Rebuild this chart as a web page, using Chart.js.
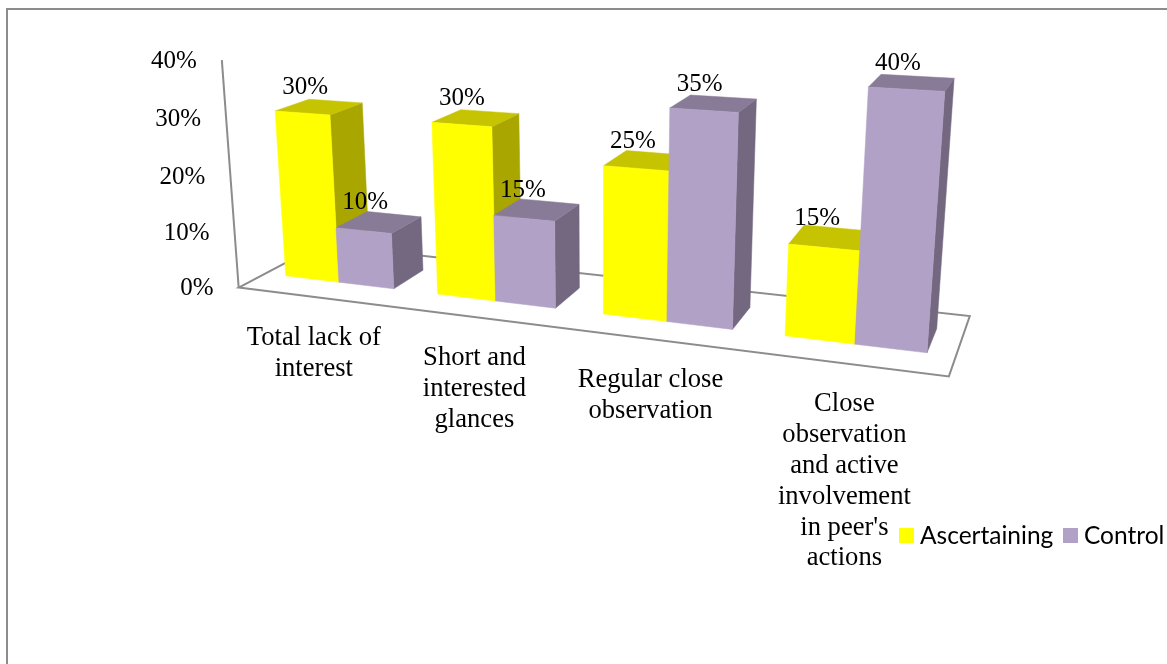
<!DOCTYPE html>
<html>
<head>
<meta charset="utf-8">
<title>Ascertaining and control</title>
<script src="https://cdn.jsdelivr.net/npm/chart.js@4/dist/chart.umd.min.js"></script>
<style>
    html, body { margin: 0; background: #fff; overflow: hidden; }
    canvas { display: block; }
</style>
</head>
<body>
<canvas id="chart" width="1167" height="664"></canvas>
<script>
const categories = [
    ['Total lack of', 'interest'],
    ['Short and', 'interested', 'glances'],
    ['Regular close', 'observation'],
    ['Close', 'observation', 'and active', 'involvement', "in peer's", 'actions']
];
const ascertaining = [30, 30, 25, 15];
const control = [10, 15, 35, 40];
const yTicks = [0, 10, 20, 30, 40];

const serif = '"Liberation Serif", "Times New Roman", serif';
const GREY = '#8c8c8c';

// one colour per face of a column
const yellowFaces = { front: '#ffff00', top: '#c6c300', side: '#a9a600' };
const purpleFaces = { front: '#b2a1c7', top: '#887b97', side: '#736880' };

// perspective box: u runs along the categories (0-1), d runs back through a
// column (0 = front face, 1 = back face), h is the value on the y scale
const FLOOR_FRONT = -0.759;
const FLOOR_BACK = 1.7;

function project(u, d, h) {
    const s = 0.039 * d;
    const t = -0.00108 * h;
    const w = 1 - 0.1667 * u + s + t;
    return {
        x: (265.5 + 531 * u + 1145 * s + 600 * t) / w,
        y: (273.4 + 23.5 * u - 190 * s + 5170 * t) / w
    };
}

function fillFace(ctx, color, points) {
    ctx.beginPath();
    points.forEach((p, i) => {
        const q = project(p[0], p[1], p[2]);
        if (i === 0) ctx.moveTo(q.x, q.y);
        else ctx.lineTo(q.x, q.y);
    });
    ctx.closePath();
    ctx.fillStyle = color;
    ctx.strokeStyle = color;
    ctx.lineWidth = 0.5;
    ctx.fill();
    ctx.stroke();
}

function drawFloor(ctx) {
    const corners = [
        project(0, FLOOR_FRONT, 0),
        project(1, FLOOR_FRONT, 0),
        project(1, FLOOR_BACK, 0),
        project(0, FLOOR_BACK, 0)
    ];
    ctx.beginPath();
    corners.forEach((q, i) => i === 0 ? ctx.moveTo(q.x, q.y) : ctx.lineTo(q.x, q.y));
    ctx.closePath();
    ctx.strokeStyle = GREY;
    ctx.lineWidth = 2;
    ctx.stroke();

    const top = project(0, FLOOR_FRONT, yTicks[yTicks.length - 1]);
    ctx.beginPath();
    ctx.moveTo(corners[0].x, corners[0].y);
    ctx.lineTo(top.x, top.y);
    ctx.stroke();
}

function drawColumn(ctx, bar, value, faces, area) {
    const u0 = (bar.x - bar.width / 2 - area.left) / area.width;
    const u1 = (bar.x + bar.width / 2 - area.left) / area.width;
    fillFace(ctx, faces.side, [[u1, 0, 0], [u1, 1, 0], [u1, 1, value], [u1, 0, value]]);
    fillFace(ctx, faces.top, [[u0, 0, value], [u1, 0, value], [u1, 1, value], [u0, 1, value]]);
    fillFace(ctx, faces.front, [[u0, 0, 0], [u1, 0, 0], [u1, 0, value], [u0, 0, value]]);
}

const box3d = {
    id: 'box3d',
    beforeDraw(chart) {
        // frame round the chart, open on the right and at the bottom
        const ctx = chart.ctx;
        ctx.save();
        ctx.strokeStyle = GREY;
        ctx.lineWidth = 2;
        ctx.beginPath();
        ctx.moveTo(7, chart.height);
        ctx.lineTo(7, 9);
        ctx.lineTo(chart.width, 9);
        ctx.stroke();
        ctx.restore();
    },
    beforeDatasetsDraw(chart) {
        const ctx = chart.ctx;
        const area = chart.chartArea;
        const xScale = chart.scales.x;
        const yScale = chart.scales.y;
        const faceSets = [yellowFaces, purpleFaces];
        ctx.save();
        drawFloor(ctx);

        // columns back to front, category by category
        categories.forEach((lines, i) => {
            chart.data.datasets.forEach((ds, k) => {
                const bar = chart.getDatasetMeta(k).data[i];
                drawColumn(ctx, bar, yScale.getValueForPixel(bar.y), faceSets[k], area);
            });
        });

        ctx.fillStyle = '#000';
        ctx.font = '25px ' + serif;
        ctx.textBaseline = 'middle';

        // value labels above each column
        ctx.textAlign = 'center';
        chart.data.datasets.forEach((ds, k) => {
            chart.getDatasetMeta(k).data.forEach((bar, i) => {
                const u = (bar.x - area.left) / area.width;
                const q = project(u, 0.5, yScale.getValueForPixel(bar.y));
                ctx.fillText(ds.data[i] + '%', q.x - 14, q.y - 19.5);
            });
        });

        // y ticks follow the slanted axis
        ctx.textAlign = 'right';
        yScale.ticks.forEach(tick => {
            const q = project(0, FLOOR_FRONT, tick.value);
            ctx.fillText(tick.label, q.x - 25, q.y + 1);
        });

        // category labels hang under the front edge of the floor
        ctx.textAlign = 'center';
        ctx.font = '26.6px ' + serif;
        categories.forEach((lines, i) => {
            const u = (xScale.getPixelForTick(i) - area.left) / area.width;
            const q = project(u, FLOOR_FRONT, 0);
            lines.forEach((line, n) => ctx.fillText(line, q.x, q.y + 41 + n * 30.8));
        });

        // legend
        ctx.textAlign = 'left';
        ctx.font = '24.5px Lato, sans-serif';
        const legendX = [899, 1063];
        chart.data.datasets.forEach((ds, k) => {
            ctx.fillStyle = ds.backgroundColor;
            ctx.fillRect(legendX[k], 528, 15, 15);
            ctx.fillStyle = '#000';
            ctx.fillText(ds.label, legendX[k] + 21, 536);
        });

        ctx.restore();
        return false;
    }
};

new Chart(document.getElementById('chart'), {
    type: 'bar',
    data: {
        labels: categories,
        datasets: [{
            label: 'Ascertaining',
            data: ascertaining,
            backgroundColor: yellowFaces.front
        }, {
            label: 'Control',
            data: control,
            backgroundColor: purpleFaces.front
        }]
    },
    options: {
        responsive: false,
        animation: false,
        categoryPercentage: 0.72,
        barPercentage: 1,
        plugins: {
            legend: { display: false },
            tooltip: { enabled: false }
        },
        scales: {
            x: { display: false },
            y: {
                display: false,
                min: yTicks[0],
                max: yTicks[yTicks.length - 1],
                ticks: {
                    stepSize: 10,
                    callback: value => value + '%'
                }
            }
        }
    },
    plugins: [box3d]
});
</script>
</body>
</html>
